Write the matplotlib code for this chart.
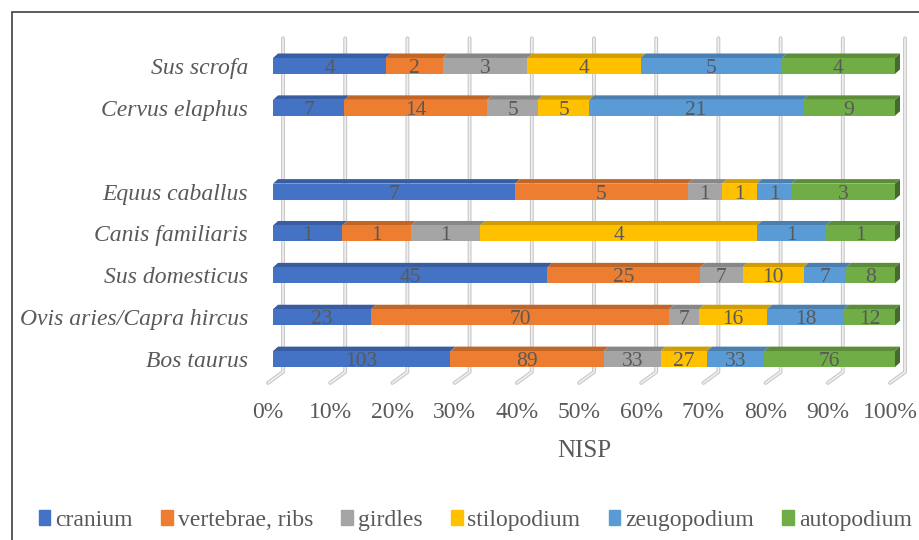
import numpy as np
import matplotlib
matplotlib.use('Agg')
import matplotlib.pyplot as plt
from matplotlib.patches import Polygon, Rectangle, Patch
from matplotlib.colors import to_rgb
from matplotlib.transforms import ScaledTranslation

plt.rcParams['font.family'] = ['Liberation Serif', 'DejaVu Serif']

# data (bottom to top), '' = empty slot between groups
species = ['Bos taurus', 'Ovis aries/Capra hircus', 'Sus domesticus',
           'Canis familiaris', 'Equus caballus', '', 'Cervus elaphus', 'Sus scrofa']
parts = ['cranium', 'vertebrae, ribs', 'girdles', 'stilopodium', 'zeugopodium', 'autopodium']
cranium     = [103, 23, 45, 1, 7, 0, 7, 4]
vertebrae   = [89, 70, 25, 1, 5, 0, 14, 2]
girdles     = [33, 7, 7, 1, 1, 0, 5, 3]
stilopodium = [27, 16, 10, 4, 1, 0, 5, 4]
zeugopodium = [33, 18, 7, 1, 1, 0, 21, 5]
autopodium  = [76, 12, 8, 1, 3, 0, 9, 4]
colors = ['#4472C4', '#ED7D31', '#A5A5A5', '#FFC000', '#5B9BD5', '#70AD47']

counts = np.array([cranium, vertebrae, girdles, stilopodium, zeugopodium, autopodium], dtype=float)
totals = counts.sum(axis=0)
totals[totals == 0] = 1
shares = counts / totals

fig = plt.figure(figsize=(9.19, 5.4), dpi=100)
ax = fig.add_axes([273/919, 160/540, 622/919, 335/540])
ax.set_xlim(0, 1)
ax.set_ylim(-0.5, 7.5)

# pixel -> data conversion
px = 1 / 622
py = 1 / 41.9
h = 0.38
ddx, ddy = 5 * px, 4.5 * py


def shade(c, f):
    r, g, b = to_rgb(c)
    return (r * f, g * f, b * f)


# gridlines on back wall + floor
for v in np.linspace(0, 1, 11):
    xb = v + 10 * px
    xs = [xb, xb, v - 5 * px]
    ys = [7.66, -0.31, -0.57]
    ax.plot(xs, ys, color='#C8C8C8', lw=2.8, solid_capstyle='round', zorder=1, clip_on=False)
    ax.plot(xs, ys, color='#F0F0F0', lw=1.2, solid_capstyle='round', zorder=1.1, clip_on=False)

y = np.arange(len(species))
left = np.zeros(len(species))
for i in range(len(parts)):
    w = shares[i]
    ax.barh(y, w, left=left, height=h, color=colors[i], zorder=3, clip_on=False)
    for j in range(len(species)):
        if counts[i, j] == 0:
            continue
        x0, x1 = left[j], left[j] + w[j]
        yt = y[j] + h / 2
        top = Polygon([(x0, yt), (x1, yt), (x1 + ddx, yt + ddy), (x0 + ddx, yt + ddy)],
                      closed=True, fc=shade(colors[i], 0.82), ec='none', zorder=2.5, clip_on=False)
        ax.add_patch(top)
        ax.text((x0 + x1) / 2, y[j] - 0.06, '%d' % counts[i, j], ha='center', va='center',
                fontsize=15.5, color='#595959', zorder=5)
    left = left + w

# right side face of each bar
for j in range(len(species)):
    if counts[:, j].sum() == 0:
        continue
    yb, yt = y[j] - h / 2, y[j] + h / 2
    side = Polygon([(1, yb), (1 + ddx, yb + ddy), (1 + ddx, yt + ddy), (1, yt)],
                   closed=True, fc=shade(colors[-1], 0.62), ec='none', zorder=2.6, clip_on=False)
    ax.add_patch(side)

for s in ax.spines.values():
    s.set_visible(False)

ax.set_yticks(y)
ax.set_yticklabels(species, fontstyle='italic', fontsize=17, color='#595959')
ax.tick_params(axis='y', length=0, pad=18)

ax.set_xticks(np.linspace(0, 1, 11))
ax.set_xticklabels(['%d%%' % v for v in range(0, 101, 10)], fontsize=17, color='#595959')
ax.tick_params(axis='x', length=0, pad=16)
for lab in ax.get_xticklabels():
    lab.set_transform(lab.get_transform() + ScaledTranslation(-5 / 100, 0, fig.dpi_scale_trans))
ax.set_xlabel('NISP', fontsize=18, color='#595959', labelpad=12)

handles = [Patch(color=c, label=p) for c, p in zip(colors, parts)]
fig.legend(handles=handles, loc='lower center', bbox_to_anchor=(0.517, -0.022), ncol=6,
           frameon=False, fontsize=17, handlelength=0.5, handleheight=0.6,
           handletextpad=0.2, columnspacing=1.2, labelcolor='#595959')

# chart border (only top and left visible)
fig.patches.append(Rectangle((12/919, -0.5), 2, 1.5 - 12/540, transform=fig.transFigure,
                             fill=False, ec='#404040', lw=1.2))

fig.savefig('out.png', dpi=100)
